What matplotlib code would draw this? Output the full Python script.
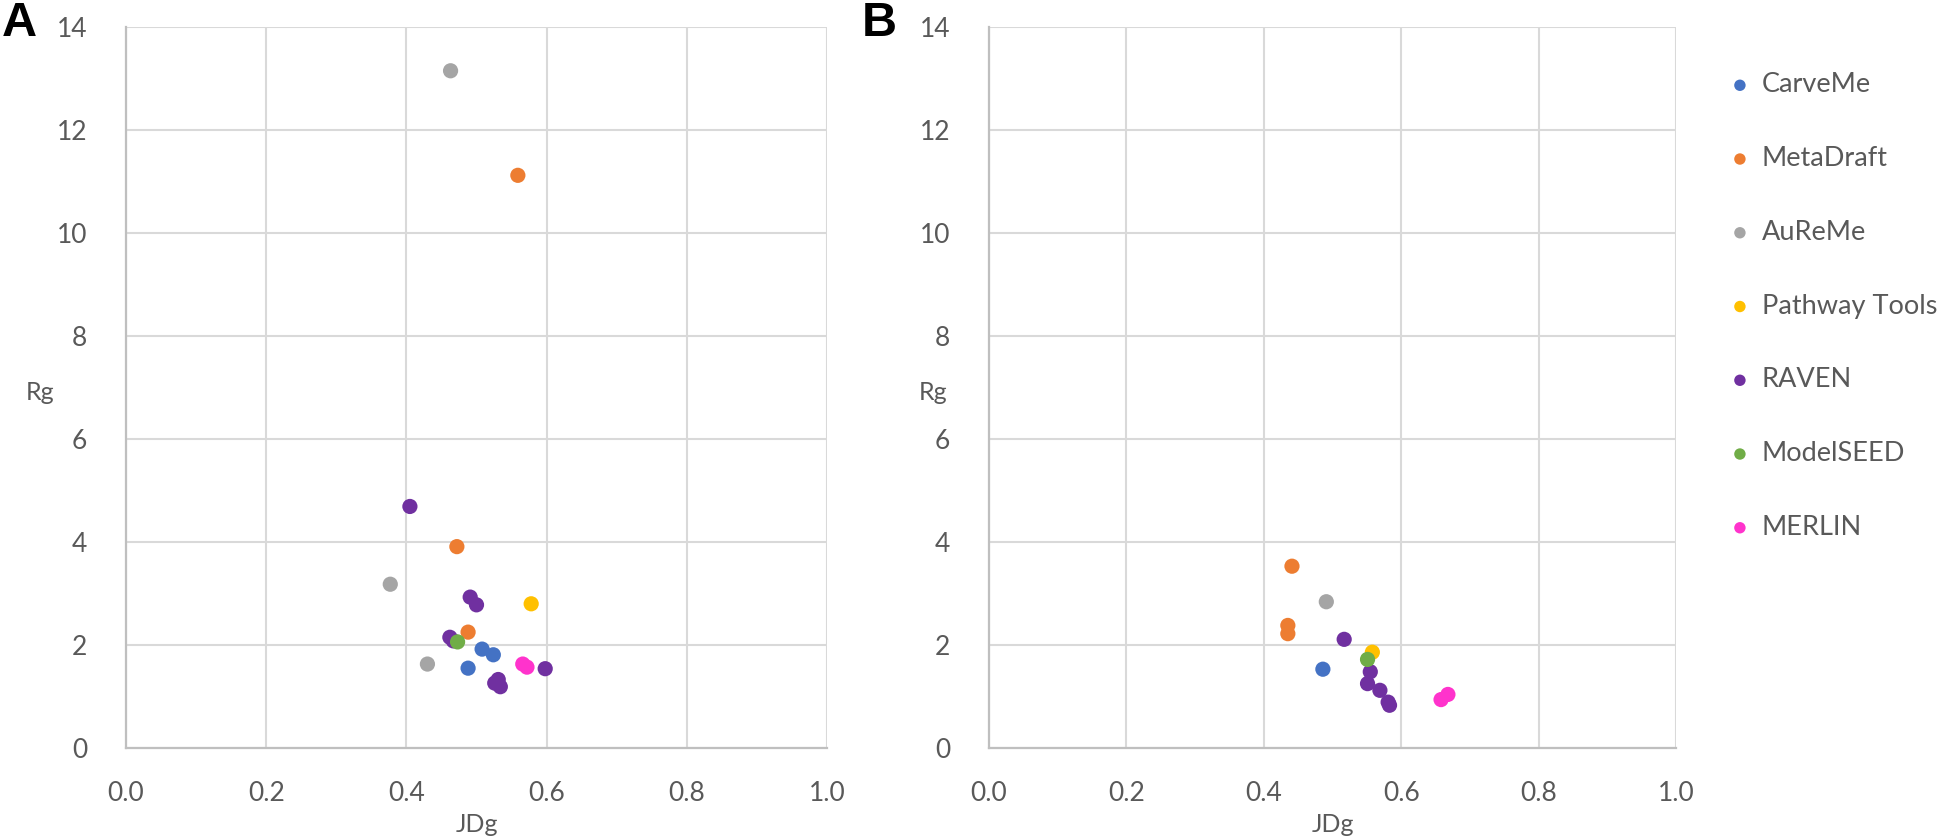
import matplotlib
matplotlib.use("Agg")
import matplotlib.pyplot as plt

tools = ["CarveMe", "MetaDraft", "AuReMe", "Pathway Tools", "RAVEN", "ModelSEED", "MERLIN"]
colors = ["#4472C4", "#ED7D31", "#A5A5A5", "#FFC000", "#7030A0", "#70AD47", "#FF33CC"]

# Panel A (JDg, Rg) per tool
a_carveme_x = [0.508, 0.524, 0.488]
a_carveme_y = [1.92, 1.81, 1.55]
a_metadraft_x = [0.559, 0.472, 0.488]
a_metadraft_y = [11.12, 3.91, 2.25]
a_aureme_x = [0.463, 0.377, 0.430]
a_aureme_y = [13.15, 3.18, 1.63]
a_pathway_x = [0.578]
a_pathway_y = [2.80]
a_raven_x = [0.405, 0.491, 0.500, 0.462, 0.467, 0.598, 0.531, 0.526, 0.534]
a_raven_y = [4.69, 2.93, 2.78, 2.15, 2.08, 1.54, 1.33, 1.26, 1.19]
a_modelseed_x = [0.473]
a_modelseed_y = [2.06]
a_merlin_x = [0.566, 0.572]
a_merlin_y = [1.63, 1.57]

# Panel B
b_carveme_x = [0.486]
b_carveme_y = [1.53]
b_metadraft_x = [0.441, 0.435, 0.435]
b_metadraft_y = [3.53, 2.38, 2.22]
b_aureme_x = [0.491]
b_aureme_y = [2.84]
b_pathway_x = [0.558]
b_pathway_y = [1.86]
b_raven_x = [0.517, 0.555, 0.551, 0.569, 0.581, 0.583]
b_raven_y = [2.11, 1.48, 1.25, 1.12, 0.89, 0.83]
b_modelseed_x = [0.551]
b_modelseed_y = [1.72]
b_merlin_x = [0.658, 0.668]
b_merlin_y = [0.94, 1.04]

x_ticks = [0.0, 0.2, 0.4, 0.6, 0.8, 1.0]
x_ticklabels = ["0.0", "0.2", "0.4", "0.6", "0.8", "1.0"]
y_ticks = [0, 2, 4, 6, 8, 10, 12, 14]

panel_a = [(a_carveme_x, a_carveme_y), (a_metadraft_x, a_metadraft_y), (a_aureme_x, a_aureme_y),
           (a_pathway_x, a_pathway_y), (a_raven_x, a_raven_y), (a_modelseed_x, a_modelseed_y),
           (a_merlin_x, a_merlin_y)]
panel_b = [(b_carveme_x, b_carveme_y), (b_metadraft_x, b_metadraft_y), (b_aureme_x, b_aureme_y),
           (b_pathway_x, b_pathway_y), (b_raven_x, b_raven_y), (b_modelseed_x, b_modelseed_y),
           (b_merlin_x, b_merlin_y)]

plt.rcParams['font.family'] = ['Lato', 'DejaVu Sans']
TXT = "#595959"

fig = plt.figure(figsize=(19.46, 8.39), dpi=100)
W, H = 1946, 839
axA = fig.add_axes([126 / W, 1 - 748 / H, 701 / W, 721 / H])
axB = fig.add_axes([989 / W, 1 - 748 / H, 687 / W, 721 / H])

handles = []
for ax, data, lblx in ((axA, panel_a, 40), (axB, panel_b, 933)):
    for (xs, ys), name, c in zip(data, tools, colors):
        h = ax.scatter(xs, ys, s=120, color=c, edgecolors='none', label=name, zorder=3)
        if ax is axB:
            handles.append(h)
    ax.set_xlim(0, 1.0)
    ax.set_ylim(0, 14)
    ax.set_xticks(x_ticks)
    ax.set_xticklabels(x_ticklabels)
    ax.set_yticks(y_ticks)
    ax.grid(True, color="#D9D9D9", linewidth=1.5, zorder=0)
    ax.set_axisbelow(True)
    for sp in ("top", "right"):
        ax.spines[sp].set_visible(False)
    for sp in ("left", "bottom"):
        ax.spines[sp].set_color("#BFBFBF")
        ax.spines[sp].set_linewidth(1.6)
    ax.tick_params(axis='both', length=0, labelsize=19, labelcolor=TXT)
    ax.tick_params(axis='y', pad=28)
    ax.tick_params(axis='x', pad=24)
    ax.set_xlabel("JDg", fontsize=18, color=TXT, labelpad=5)
    ax.text(lblx / W, 1 - 393 / H, "Rg", transform=fig.transFigure, fontsize=18,
            color=TXT, ha='center', va='center')

fig.text(2 / W, 1 - 24 / H, "A", fontsize=35, fontweight='bold', family='Liberation Sans',
         ha='left', va='center')
fig.text(862 / W, 1 - 24 / H, "B", fontsize=35, fontweight='bold', family='Liberation Sans',
         ha='left', va='center')

leg = fig.legend(handles=handles, loc='upper left', bbox_to_anchor=(1702 / W, 1 - 48 / H),
                 frameon=False, fontsize=19.5, labelspacing=1.8, markerscale=0.75,
                 handletextpad=0.3, handlelength=1.0, labelcolor=TXT)

fig.savefig("out.png", dpi=100)
